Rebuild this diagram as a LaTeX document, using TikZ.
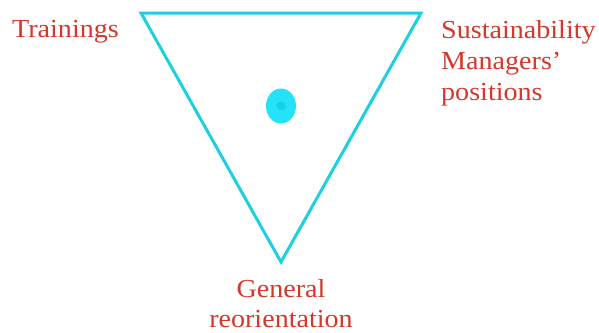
\documentclass[tikz,border=0pt]{standalone}
\usepackage{fontspec}
\usetikzlibrary{shapes.geometric}
\setmainfont{Liberation Serif}[FakeStretch=1.08]
\definecolor{labelred}{RGB}{212,56,42}
\definecolor{tricyan}{RGB}{30,207,224}
\definecolor{dotcyan}{RGB}{36,226,248}
\definecolor{dotcore}{RGB}{22,208,230}
\tikzset{
  tag/.style={text=labelred, font=\fontsize{26}{31}\selectfont, inner sep=0pt, align=left},
  side/.style={draw=tricyan, line width=3pt, line join=miter}
}
\begin{document}
\begin{tikzpicture}[x=1pt, y=-1pt]
    \useasboundingbox (0,0) rectangle (599,332);

    \coordinate (tl) at (141,13);
    \coordinate (tr) at (421,13);
    \coordinate (bt) at (281,262);
    \draw[side] (tl) -- (tr) -- (bt) -- cycle;

    \node[ellipse, fill=dotcyan, minimum width=30pt, minimum height=35pt, inner sep=0pt] (dot) at (281,106) {};
    \node[circle, fill=dotcore, minimum size=9pt, inner sep=0pt] (core) at (dot.center) {};

    \node[tag, anchor=base west] (train) at (12,37) {Trainings};
    \node[tag, anchor=base west] (manager) at (441,100) {Sustainability\\Managers’\\positions};
    \node[tag, anchor=base, align=center, font=\fontsize{26}{30}\selectfont] (general) at (281,327) {General\\reorientation};
\end{tikzpicture}
\end{document}
